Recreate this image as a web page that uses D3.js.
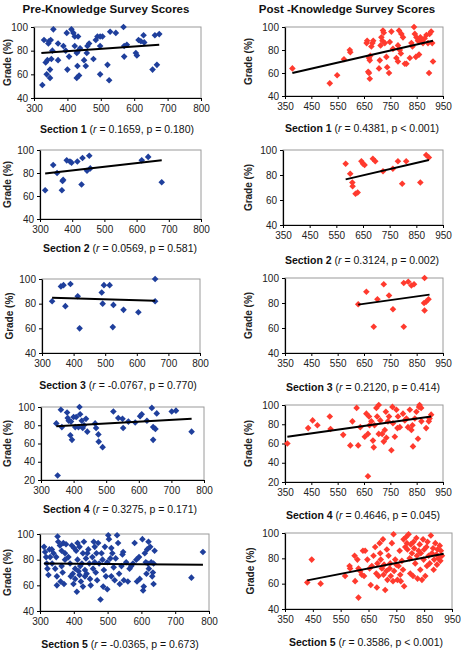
<!DOCTYPE html>
<html><head><meta charset="utf-8">
<script src="https://cdn.jsdelivr.net/npm/d3@7"></script>
<style>body{margin:0;background:#fff}svg{display:block;font-family:"Liberation Sans",Arial,sans-serif}</style>
</head><body><svg id="c" width="461" height="651"></svg>
<script>
// ---------- DATA ----------
const titles = ["Pre-Knowledge Survey Scores", "Post -Knowledge Survey Scores"];
const sections = ["Section 1", "Section 2", "Section 3", "Section 4", "Section 5"];
const preStats = [" = 0.1659, p = 0.180)", " = 0.0569, p = 0.581)", " = -0.0767, p = 0.770)", " = 0.3275, p = 0.171)", " = -0.0365, p = 0.673)"];
const postStats = [" = 0.4381, p < 0.001)", " = 0.3124, p = 0.002)", " = 0.2120, p = 0.414)", " = 0.4646, p = 0.045)", " = 0.3586, p < 0.001)"];
const preXTicks = [300, 400, 500, 600, 700, 800];
const postXTicks = [350, 450, 550, 650, 750, 850, 950];
const yTicks = [40, 60, 80, 100];
const yTicksWide = [20, 40, 60, 80, 100];
const yLabel = "Grade (%)";

const preS1 = [[325,51],[330,89],[335,70],[338,60],[340,72],[343,86],[345,88],[348,64],[348,57],[350,89],[352,73],[355,80],[358,98],[372,86],[372,72],[388,84],[395,80],[398,95],[400,64],[405,75],[412,98],[418,95],[422,92],[422,84],[428,78],[430,79],[432,92],[430,67],[428,57],[435,59],[438,82],[450,72],[455,67],[458,78],[460,84],[465,86],[478,73],[485,89],[490,92],[498,92],[505,92],[498,84],[498,60],[520,68],[525,55],[528,96],[545,95],[568,100],[570,75],[570,84],[578,85],[605,78],[608,76],[613,89],[620,88],[628,93],[630,87],[655,64],[662,93],[668,68],[675,94]];
const preS2 = [[316,65],[341,87],[353,80],[370,73],[372,74],[368,65],[383,91],[393,90],[398,89],[416,90],[429,70],[432,93],[446,82],[453,95],[456,84],[616,91],[636,94],[678,72]];
const preS3 = [[332,82],[360,94],[368,95],[374,78],[390,96],[413,86],[419,60],[489,89],[492,80],[496,95],[514,95],[526,79],[524,61],[558,75],[605,73],[658,100],[658,82]];
const preS4 = [[347,82],[351,25],[361,97],[364,78],[380,94],[382,88],[385,85],[390,69],[392,84],[395,64],[400,89],[405,78],[408,89],[415,78],[418,100],[420,92],[425,85],[428,77],[432,80],[438,87],[442,73],[466,82],[469,77],[476,70],[477,62],[489,56],[522,95],[537,88],[550,87],[552,77],[568,84],[589,83],[604,90],[609,92],[625,85],[640,99],[644,64],[644,78],[651,76],[655,93],[701,95],[714,96],[762,73]];
const preS5 = [[312,90],[315,86],[318,82],[320,77],[322,73],[325,68],[328,88],[330,82],[335,88],[340,85],[345,73],[350,67],[352,98],[354,94],[336,77],[348,82],[350,60],[359,91],[364,87],[364,75],[369,93],[367,70],[371,61],[374,85],[374,80],[361,63],[377,92],[384,82],[389,77],[394,91],[397,69],[399,61],[401,89],[404,73],[391,67],[404,65],[407,87],[409,55],[411,80],[414,71],[417,90],[419,75],[421,63],[424,77],[427,85],[417,68],[427,59],[411,93],[430,94],[433,72],[436,81],[438,69],[443,88],[446,77],[448,65],[450,60],[440,85],[433,67],[455,82],[457,73],[459,94],[462,90],[465,70],[467,85],[469,64],[472,93],[475,77],[462,78],[479,49],[482,85],[487,59],[489,72],[492,90],[495,67],[499,78],[502,99],[499,57],[485,80],[504,96],[508,81],[511,67],[514,85],[518,74],[521,64],[524,81],[511,89],[528,99],[531,93],[534,69],[536,61],[541,75],[544,84],[548,64],[546,86],[555,78],[560,63],[565,73],[570,75],[575,77],[580,93],[585,80],[587,63],[595,65],[593,82],[603,96],[605,56],[607,59],[610,85],[613,78],[615,69],[617,88],[619,77],[622,73],[621,94],[626,90],[629,78],[632,67],[634,70],[636,77],[639,87],[636,61],[748,66],[782,86]];

const postS1 = [[378,64],[520,51],[548,58],[574,72],[596,80],[598,78],[660,86],[662,88],[666,61],[669,60],[672,55],[669,73],[672,71],[674,75],[678,83],[682,86],[685,88],[707,64],[710,71],[713,84],[716,91],[720,88],[722,97],[725,95],[729,86],[735,74],[738,65],[745,60],[748,87],[754,96],[760,81],[773,73],[779,70],[779,84],[783,97],[786,80],[790,77],[792,94],[798,91],[805,68],[811,68],[824,73],[830,86],[834,83],[840,100],[843,94],[847,74],[849,91],[855,88],[859,76],[861,89],[864,91],[871,87],[874,86],[880,90],[887,93],[893,86],[897,60],[899,94],[905,96],[909,86],[912,70]];
const postS2 = [[585,89],[602,81],[610,74],[611,71],[622,65],[630,66],[644,91],[650,89],[656,88],[687,93],[696,91],[725,83],[762,85],[781,91],[797,73],[812,91],[865,74],[887,96],[897,94]];
const postS3 = [[628,79],[659,89],[687,61],[701,83],[725,95],[745,86],[760,75],[801,61],[801,96],[818,97],[830,94],[840,95],[880,100],[878,80],[886,81],[895,83],[880,74]];
const postS4 = [[359,60],[438,76],[455,84],[473,79],[520,88],[523,75],[571,69],[598,58],[606,83],[622,97],[628,58],[636,77],[653,67],[659,91],[665,70],[665,26],[669,88],[671,79],[678,83],[684,63],[687,56],[690,79],[697,97],[700,88],[706,100],[706,70],[712,84],[719,70],[725,62],[729,74],[733,93],[735,66],[741,83],[745,88],[754,53],[758,98],[760,81],[767,67],[773,95],[777,76],[779,88],[786,77],[798,91],[805,84],[811,86],[817,77],[824,95],[830,74],[834,79],[836,57],[843,86],[849,93],[855,65],[859,98],[861,100],[867,97],[868,83],[886,76],[899,86],[905,90],[896,83]];
const postS5 = [[430,61],[446,79],[478,60],[566,66],[582,74],[584,72],[600,82],[602,62],[610,79],[614,49],[614,72],[620,70],[626,67],[630,86],[634,66],[638,86],[646,79],[654,72],[658,59],[662,74],[668,82],[674,89],[678,68],[680,57],[682,76],[686,66],[690,92],[692,84],[694,79],[698,72],[702,95],[704,67],[706,75],[710,55],[714,70],[716,87],[718,63],[722,82],[726,72],[728,76],[730,66],[734,92],[738,62],[740,99],[742,70],[746,79],[750,75],[754,63],[758,74],[762,86],[764,67],[766,62],[770,78],[774,71],[776,95],[778,58],[782,89],[786,97],[788,92],[790,87],[794,99],[798,80],[800,68],[802,91],[806,84],[810,66],[812,93],[814,88],[818,76],[822,96],[824,82],[826,64],[830,86],[834,91],[836,71],[838,84],[842,63],[846,95],[848,79],[850,87],[854,66],[858,89],[860,74],[862,93],[866,82],[870,76],[874,98],[878,84],[882,88],[884,71],[886,79],[890,92],[894,83],[896,75],[898,87],[902,80],[906,90],[908,78],[910,86],[914,82]];

const preFits = [[322,78,675,85],[316,79.5,678,91],[332,84.8,658,82.3],[347,79,762,87],[312,77,782,76]];
const postFits = [[378,60,912,88],[585,76.5,897,92],[628,78.7,899,86.7],[359,67,905,88],[430,62.6,920,83.7]];

const preData = [preS1, preS2, preS3, preS4, preS5];
const postData = [postS1, postS2, postS3, postS4, postS5];

// ---------- LAYOUT ----------
const preBox = [
  {x0:34,x1:201,y0:27,y1:98,cx:117,cy:133,gx:7},
  {x0:40,x1:201,y0:150,y1:219,cx:120,cy:252,gx:7},
  {x0:42,x1:200,y0:279,y1:353,cx:118,cy:389,gx:9},
  {x0:41,x1:204,y0:407,y1:480,cx:120,cy:513,gx:7},
  {x0:40,x1:209,y0:534,y1:611,cx:120,cy:648,gx:7}
];
const postBox = [
  {x0:285,x1:443,y0:27,y1:96,cx:362,cy:132,gx:248},
  {x0:283,x1:443,y0:150,y1:225,cx:362,cy:264,gx:248},
  {x0:285,x1:443,y0:278,y1:353,cx:363,cy:391,gx:248},
  {x0:285,x1:443,y0:405,y1:482,cx:363,cy:519,gx:248},
  {x0:285,x1:452,y0:533,y1:609,cx:366,cy:646,gx:250}
];

const svg = d3.select("#c");
const diamond = "M0,-3.3L3.3,0L0,3.3L-3.3,0Z";

svg.append("text").attr("x",106).attr("y",13).attr("text-anchor","middle")
  .attr("font-weight","bold").attr("font-size",11.5).attr("fill","#111").text(titles[0]);
svg.append("text").attr("x",347).attr("y",13).attr("text-anchor","middle")
  .attr("font-weight","bold").attr("font-size",11.5).attr("fill","#111").text(titles[1]);

function panel(box, data, fit, xDomain, xTicks, yT, color, stat, sec) {
  const x = d3.scaleLinear().domain(xDomain).range([box.x0, box.x1]);
  const y = d3.scaleLinear().domain([yT[0], 100]).range([box.y1, box.y0]);
  const g = svg.append("g");
  g.append("rect").attr("x",box.x0).attr("y",box.y0).attr("width",box.x1-box.x0).attr("height",box.y1-box.y0)
    .attr("fill","#fff").attr("stroke","#9a9a9a").attr("stroke-width",1);
  const xa = g.append("g").attr("transform",`translate(0,${box.y1})`)
    .call(d3.axisBottom(x).tickValues(xTicks).tickSize(3).tickSizeOuter(0).tickPadding(4).tickFormat(d3.format("d")));
  const ya = g.append("g").attr("transform",`translate(${box.x0},0)`)
    .call(d3.axisLeft(y).tickValues(yT).tickSize(3).tickSizeOuter(0).tickPadding(3).tickFormat(d3.format("d")));
  [xa, ya].forEach(a => {
    a.select(".domain").attr("stroke","#000").attr("stroke-width",1.2);
    a.selectAll(".tick line").attr("stroke","#000");
    a.selectAll("text").attr("font-size",10).attr("fill","#222").attr("font-family","Liberation Sans, Arial, sans-serif");
  });
  g.selectAll("path.pt").data(data).enter().append("path").attr("class","pt")
    .attr("d",diamond).attr("fill",color)
    .attr("transform",d=>`translate(${x(d[0])},${y(d[1])})`);
  g.append("line").attr("x1",x(fit[0])).attr("y1",y(fit[1])).attr("x2",x(fit[2])).attr("y2",y(fit[3]))
    .attr("stroke","#000").attr("stroke-width",2);
  const gy = (box.y0+box.y1)/2;
  g.append("text").attr("transform",`translate(${box.gx},${gy}) rotate(-90)`).attr("text-anchor","middle")
    .attr("dy","0.35em").attr("font-weight","bold").attr("font-size",10).attr("fill","#222").text(yLabel);
  const t = g.append("text").attr("x",box.cx).attr("y",box.cy).attr("text-anchor","middle").attr("font-size",10.5).attr("fill","#111");
  t.append("tspan").attr("font-weight","bold").text(sec + " ");
  t.append("tspan").text("(");
  t.append("tspan").attr("font-style","italic").text("r");
  t.append("tspan").text(stat);
}

for (let i = 0; i < 5; i++) {
  const wide = (i === 3);
  panel(preBox[i], preData[i], preFits[i], [300,800], preXTicks, wide ? yTicksWide : yTicks, "#1f3f9c", preStats[i], sections[i]);
  panel(postBox[i], postData[i], postFits[i], [350,950], postXTicks, wide ? yTicksWide : yTicks, "#ff3a2e", postStats[i], sections[i]);
}
</script>
</body></html>
